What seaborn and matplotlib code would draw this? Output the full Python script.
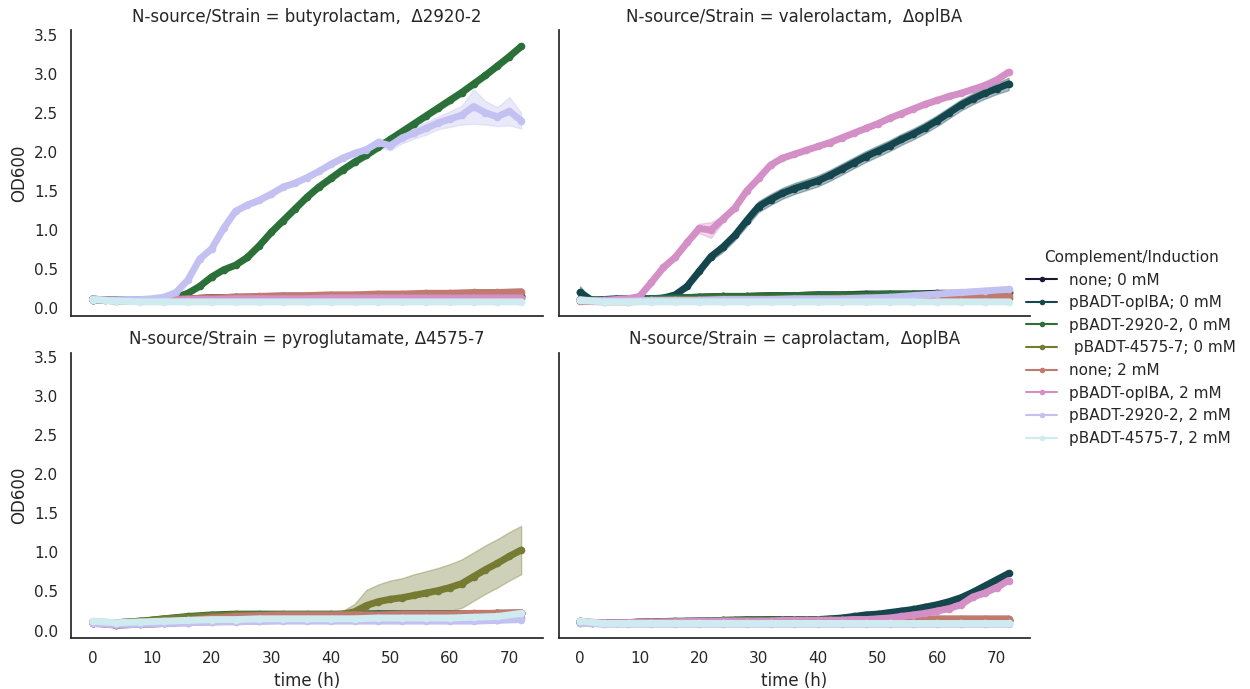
import matplotlib
matplotlib.use("Agg")
import matplotlib.pyplot as plt
import numpy as np
import pandas as pd
import seaborn as sns

sns.set_theme(style="white", context="notebook")
plt.rcParams['font.family'] = ['DejaVu Sans']

# ---------------- categories ----------------
PANELS = ["butyrolactam,  Δ2920-2", "valerolactam,  ΔoplBA",
          "pyroglutamate, Δ4575-7", "caprolactam,  ΔoplBA"]
HUES = ["none; 0 mM", "pBADT-oplBA; 0 mM", "pBADT-2920-2, 0 mM", " pBADT-4575-7; 0 mM",
        "none; 2 mM", "pBADT-oplBA, 2 mM", "pBADT-2920-2, 2 mM", "pBADT-4575-7, 2 mM"]

T_FINE = [0, 2, 4, 6, 8, 10, 12, 14, 16, 18, 20, 22, 24, 26, 28, 30, 32, 34, 36,
          38, 40, 42, 44, 46, 48, 50, 52, 54, 56, 58, 60, 62, 64, 66, 68, 70, 72]
T_COARSE = [0, 4, 8, 12, 16, 20, 24, 28, 32, 36, 40, 44, 48, 52, 56, 60, 64, 68, 72]

# ---------------- butyrolactam ----------------
BUT_GREEN = [0.12, 0.10, 0.10, 0.10, 0.11, 0.11, 0.12, 0.14, 0.19, 0.28, 0.40, 0.49, 0.55, 0.65, 0.80,
             0.97, 1.12, 1.27, 1.42, 1.55, 1.66, 1.77, 1.87, 1.96, 2.06, 2.16, 2.26, 2.36, 2.46, 2.56,
             2.66, 2.76, 2.87, 2.98, 3.10, 3.22, 3.35]
BUT_GREEN_SD = [0, 0, 0, 0, 0, 0, 0, 0.01, 0.02, 0.02, 0.03, 0.03, 0.03, 0.04, 0.04, 0.04, 0.04, 0.04,
                0.04, 0.04, 0.04, 0.04, 0.04, 0.04, 0.04, 0.04, 0.04, 0.04, 0.04, 0.04, 0.04, 0.04,
                0.04, 0.04, 0.04, 0.04, 0.04]
BUT_LAV = [0.12, 0.10, 0.10, 0.11, 0.11, 0.12, 0.14, 0.20, 0.36, 0.63, 0.76, 1.02, 1.24, 1.32, 1.38,
           1.46, 1.55, 1.60, 1.67, 1.75, 1.84, 1.92, 1.98, 2.03, 2.12, 2.08, 2.18, 2.24, 2.30, 2.37,
           2.42, 2.47, 2.58, 2.50, 2.45, 2.52, 2.40]
BUT_LAV_SD = [0, 0, 0, 0, 0, 0, 0, 0.01, 0.02, 0.02, 0.02, 0.02, 0.02, 0.02, 0.02, 0.02, 0.02, 0.02,
              0.02, 0.02, 0.02, 0.02, 0.03, 0.04, 0.06, 0.06, 0.07, 0.07, 0.08, 0.08, 0.10, 0.12,
              0.22, 0.15, 0.12, 0.18, 0.10]
BUT_NAVY = [0.11, 0.10, 0.10, 0.11, 0.12, 0.13, 0.13, 0.14, 0.14, 0.14, 0.15, 0.15, 0.15, 0.15, 0.15, 0.15, 0.15, 0.15, 0.15]
BUT_TEAL = [0.11, 0.10, 0.10, 0.11, 0.12, 0.13, 0.14, 0.14, 0.15, 0.15, 0.15, 0.15, 0.16, 0.16, 0.16, 0.16, 0.16, 0.16, 0.16]
BUT_OLIVE = [0.11, 0.09, 0.09, 0.10, 0.10, 0.11, 0.11, 0.11, 0.12, 0.12, 0.12, 0.12, 0.12, 0.12, 0.12, 0.13, 0.13, 0.13, 0.13]
BUT_SALMON = [0.11, 0.10, 0.10, 0.11, 0.12, 0.13, 0.14, 0.15, 0.16, 0.16, 0.17, 0.17, 0.18, 0.18, 0.19, 0.19, 0.20, 0.20, 0.21]
BUT_PINK = [0.11, 0.10, 0.10, 0.10, 0.11, 0.11, 0.12, 0.12, 0.12, 0.12, 0.13, 0.13, 0.13, 0.13, 0.13, 0.13, 0.13, 0.13, 0.13]
BUT_CYAN = [0.11, 0.09, 0.08, 0.08, 0.08, 0.08, 0.08, 0.08, 0.08, 0.08, 0.08, 0.08, 0.08, 0.08, 0.08, 0.08, 0.08, 0.08, 0.08]

# ---------------- valerolactam ----------------
VAL_PINK = [0.11, 0.09, 0.10, 0.11, 0.12, 0.15, 0.33, 0.52, 0.65, 0.84, 1.02, 1.00, 1.14, 1.28, 1.50,
            1.66, 1.83, 1.92, 1.97, 2.02, 2.07, 2.12, 2.18, 2.24, 2.30, 2.36, 2.43, 2.49, 2.55, 2.61,
            2.66, 2.71, 2.75, 2.80, 2.85, 2.92, 3.02]
VAL_PINK_SD = [0, 0, 0, 0, 0, 0.01, 0.02, 0.02, 0.02, 0.02, 0.06, 0.10, 0.04, 0.02, 0.02, 0.02, 0.02,
               0.02, 0.02, 0.02, 0.02, 0.02, 0.02, 0.02, 0.02, 0.02, 0.02, 0.02, 0.02, 0.02, 0.02,
               0.02, 0.02, 0.02, 0.02, 0.02, 0.02]
VAL_TEAL = [0.20, 0.10, 0.11, 0.12, 0.12, 0.12, 0.12, 0.13, 0.17, 0.28, 0.47, 0.66, 0.78, 0.93, 1.12,
            1.30, 1.39, 1.47, 1.53, 1.58, 1.63, 1.70, 1.78, 1.86, 1.94, 2.01, 2.08, 2.16, 2.23, 2.31,
            2.40, 2.50, 2.60, 2.68, 2.75, 2.81, 2.87]
VAL_TEAL_SD = [0.08, 0.01, 0.02, 0.02, 0.02, 0.02, 0.02, 0.03, 0.03, 0.04, 0.05, 0.05, 0.06, 0.06, 0.07,
               0.07, 0.07, 0.07, 0.07, 0.07, 0.07, 0.07, 0.07, 0.07, 0.07, 0.07, 0.07, 0.07, 0.07, 0.07,
               0.07, 0.07, 0.07, 0.07, 0.07, 0.07, 0.08]
VAL_NAVY = [0.11, 0.10, 0.11, 0.12, 0.13, 0.14, 0.15, 0.15, 0.16, 0.16, 0.17, 0.17, 0.18, 0.18, 0.18, 0.19, 0.19, 0.19, 0.20]
VAL_GREEN = [0.11, 0.10, 0.11, 0.12, 0.13, 0.14, 0.15, 0.15, 0.16, 0.16, 0.17, 0.17, 0.17, 0.18, 0.18, 0.18, 0.18, 0.19, 0.19]
VAL_OLIVE = [0.10, 0.09, 0.10, 0.10, 0.11, 0.11, 0.12, 0.12, 0.12, 0.12, 0.12, 0.13, 0.13, 0.13, 0.13, 0.13, 0.13, 0.13, 0.13]
VAL_SALMON = [0.09, 0.08, 0.08, 0.09, 0.09, 0.10, 0.10, 0.10, 0.11, 0.11, 0.11, 0.11, 0.11, 0.11, 0.12, 0.12, 0.13, 0.14, 0.15]
VAL_LAV = [0.10, 0.09, 0.09, 0.10, 0.10, 0.10, 0.11, 0.11, 0.11, 0.12, 0.12, 0.12, 0.13, 0.14, 0.16, 0.18, 0.20, 0.22, 0.24]
VAL_CYAN = [0.10, 0.08, 0.08, 0.08, 0.08, 0.08, 0.08, 0.08, 0.08, 0.08, 0.08, 0.08, 0.08, 0.08, 0.08, 0.08, 0.08, 0.08, 0.08]

# ---------------- pyroglutamate ----------------
PYR_OLIVE = [0.11, 0.10, 0.10, 0.11, 0.12, 0.13, 0.15, 0.16, 0.17, 0.18, 0.19, 0.19, 0.20, 0.20, 0.20,
             0.20, 0.20, 0.20, 0.20, 0.20, 0.20, 0.21, 0.24, 0.32, 0.37, 0.40, 0.42, 0.45, 0.48, 0.51,
             0.55, 0.60, 0.69, 0.78, 0.86, 0.95, 1.03]
PYR_OLIVE_SD = [0, 0, 0, 0, 0, 0, 0, 0, 0, 0, 0, 0, 0, 0, 0, 0, 0, 0, 0, 0, 0.01, 0.04, 0.10, 0.20,
                0.22, 0.24, 0.25, 0.27, 0.28, 0.29, 0.30, 0.31, 0.31, 0.31, 0.31, 0.31, 0.31]
PYR_NAVY = [0.10, 0.07, 0.08, 0.09, 0.11, 0.14, 0.17, 0.19, 0.20, 0.20, 0.20, 0.21, 0.21, 0.21, 0.21, 0.21, 0.21, 0.22, 0.22]
PYR_TEAL = [0.10, 0.09, 0.10, 0.12, 0.14, 0.16, 0.18, 0.19, 0.20, 0.20, 0.20, 0.20, 0.21, 0.21, 0.21, 0.21, 0.21, 0.21, 0.22]
PYR_GREEN = [0.11, 0.10, 0.12, 0.15, 0.18, 0.20, 0.21, 0.21, 0.21, 0.21, 0.21, 0.21, 0.21, 0.21, 0.21, 0.21, 0.21, 0.22, 0.22]
PYR_SALMON = [0.10, 0.08, 0.09, 0.11, 0.13, 0.16, 0.18, 0.19, 0.20, 0.20, 0.20, 0.20, 0.20, 0.21, 0.21, 0.21, 0.22, 0.22, 0.23]
PYR_PINK = [0.09, 0.07, 0.08, 0.09, 0.10, 0.11, 0.12, 0.12, 0.13, 0.13, 0.13, 0.13, 0.13, 0.13, 0.13, 0.13, 0.13, 0.14, 0.16]
PYR_LAV = [0.09, 0.08, 0.08, 0.09, 0.10, 0.11, 0.11, 0.12, 0.12, 0.12, 0.12, 0.12, 0.12, 0.12, 0.12, 0.12, 0.12, 0.13, 0.14]
PYR_CYAN = [0.12, 0.10, 0.11, 0.12, 0.13, 0.14, 0.14, 0.15, 0.15, 0.15, 0.15, 0.15, 0.16, 0.16, 0.16, 0.16, 0.17, 0.18, 0.22]

# ---------------- caprolactam ----------------
CAP_TEAL = [0.12, 0.10, 0.10, 0.10, 0.10, 0.11, 0.11, 0.11, 0.11, 0.12, 0.12, 0.12, 0.13, 0.13, 0.13,
            0.13, 0.14, 0.14, 0.14, 0.14, 0.14, 0.15, 0.16, 0.18, 0.20, 0.21, 0.23, 0.25, 0.27, 0.30,
            0.33, 0.37, 0.42, 0.49, 0.57, 0.65, 0.73]
CAP_PINK = [0.12, 0.10, 0.10, 0.10, 0.10, 0.11, 0.11, 0.11, 0.11, 0.12, 0.12, 0.12, 0.12, 0.12, 0.12,
            0.12, 0.12, 0.13, 0.13, 0.13, 0.13, 0.13, 0.13, 0.14, 0.14, 0.15, 0.16, 0.18, 0.20, 0.22,
            0.25, 0.28, 0.33, 0.43, 0.48, 0.55, 0.64]
CAP_NAVY = [0.11, 0.09, 0.10, 0.11, 0.11, 0.12, 0.12, 0.13, 0.13, 0.13, 0.13, 0.13, 0.13, 0.13, 0.13, 0.13, 0.13, 0.13, 0.13]
CAP_GREEN = [0.11, 0.10, 0.10, 0.11, 0.12, 0.12, 0.13, 0.14, 0.14, 0.14, 0.14, 0.14, 0.14, 0.14, 0.14, 0.14, 0.14, 0.14, 0.14]
CAP_OLIVE = [0.10, 0.09, 0.10, 0.10, 0.11, 0.11, 0.12, 0.12, 0.12, 0.12, 0.12, 0.12, 0.12, 0.12, 0.12, 0.12, 0.12, 0.12, 0.12]
CAP_SALMON = [0.11, 0.09, 0.10, 0.10, 0.11, 0.11, 0.12, 0.12, 0.12, 0.13, 0.13, 0.13, 0.14, 0.14, 0.15, 0.15, 0.15, 0.15, 0.15]
CAP_LAV = [0.10, 0.08, 0.08, 0.08, 0.08, 0.08, 0.08, 0.08, 0.08, 0.08, 0.08, 0.08, 0.08, 0.08, 0.08, 0.08, 0.08, 0.08, 0.08]
CAP_CYAN = [0.12, 0.09, 0.09, 0.09, 0.09, 0.09, 0.09, 0.09, 0.09, 0.09, 0.09, 0.09, 0.09, 0.09, 0.09, 0.09, 0.09, 0.09, 0.09]

# (panel, hue) -> (times, mean values, spread)
SERIES = [
    (0, 0, T_COARSE, BUT_NAVY, None), (0, 1, T_COARSE, BUT_TEAL, None),
    (0, 2, T_FINE, BUT_GREEN, BUT_GREEN_SD), (0, 3, T_COARSE, BUT_OLIVE, None),
    (0, 4, T_COARSE, BUT_SALMON, None), (0, 5, T_COARSE, BUT_PINK, None),
    (0, 6, T_FINE, BUT_LAV, BUT_LAV_SD), (0, 7, T_COARSE, BUT_CYAN, None),
    (1, 0, T_COARSE, VAL_NAVY, None), (1, 1, T_FINE, VAL_TEAL, VAL_TEAL_SD),
    (1, 2, T_COARSE, VAL_GREEN, None), (1, 3, T_COARSE, VAL_OLIVE, None),
    (1, 4, T_COARSE, VAL_SALMON, None), (1, 5, T_FINE, VAL_PINK, VAL_PINK_SD),
    (1, 6, T_COARSE, VAL_LAV, None), (1, 7, T_COARSE, VAL_CYAN, None),
    (2, 0, T_COARSE, PYR_NAVY, None), (2, 1, T_COARSE, PYR_TEAL, None),
    (2, 2, T_COARSE, PYR_GREEN, None), (2, 3, T_FINE, PYR_OLIVE, PYR_OLIVE_SD),
    (2, 4, T_COARSE, PYR_SALMON, None), (2, 5, T_COARSE, PYR_PINK, None),
    (2, 6, T_COARSE, PYR_LAV, None), (2, 7, T_COARSE, PYR_CYAN, None),
    (3, 0, T_COARSE, CAP_NAVY, None), (3, 1, T_FINE, CAP_TEAL, None),
    (3, 2, T_COARSE, CAP_GREEN, None), (3, 3, T_COARSE, CAP_OLIVE, None),
    (3, 4, T_COARSE, CAP_SALMON, None), (3, 5, T_FINE, CAP_PINK, None),
    (3, 6, T_COARSE, CAP_LAV, None), (3, 7, T_COARSE, CAP_CYAN, None),
]

rows = []
for p, h, t, v, s in SERIES:
    s = s if s is not None else [0.0] * len(v)
    for ti, vi, si in zip(t, v, s):
        # two replicate wells: mean +/- spread (standard error of the pair = spread)
        rows.append((PANELS[p], HUES[h], ti, vi - si))
        rows.append((PANELS[p], HUES[h], ti, vi + si))
df = pd.DataFrame(rows, columns=["N-source/Strain", "Complement/Induction", "time (h)", "OD600"])

g = sns.relplot(data=df, x="time (h)", y="OD600", hue="Complement/Induction", hue_order=HUES,
                col="N-source/Strain", col_order=PANELS, col_wrap=2, kind="line",
                palette="cubehelix", errorbar="se", marker="o", markersize=5.5,
                markeredgewidth=0, linewidth=5, err_kws={"alpha": 0.35},
                height=3, aspect=1.6, facet_kws={"sharex": True, "sharey": True})

g.set_titles("N-source/Strain = {col_name}")
fig = g.figure
fig.set_size_inches(12.5, 6.89)
fig.subplots_adjust(left=0.057, right=0.824, top=0.956, bottom=0.074, wspace=0.034, hspace=0.13)
for ax in g.axes.flat:
    ax.set_yticks([0.0, 0.5, 1.0, 1.5, 2.0, 2.5, 3.0, 3.5])
    ax.set_xticks([0, 10, 20, 30, 40, 50, 60, 70])

sns.move_legend(g, "center left", bbox_to_anchor=(0.81, 0.495), frameon=False,
                title_fontsize=11)
leg = g._legend
for line in leg.get_lines():
    line.set_linewidth(1.5)
    line.set_markersize(4)

fig.savefig("out.png", dpi=100)
